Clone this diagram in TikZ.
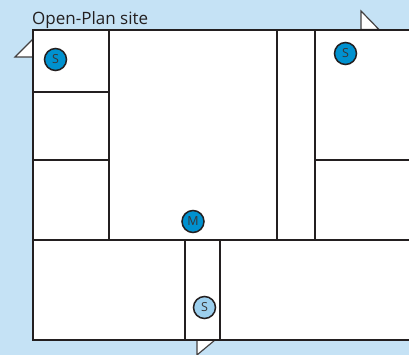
\documentclass[tikz,border=0pt]{standalone}
\usepackage{fontspec}
\setmainfont{Open Sans}
\definecolor{sky}{HTML}{C5E2F5}
\definecolor{wallc}{HTML}{231F20}
\definecolor{deep}{HTML}{0091CF}
\definecolor{pale}{HTML}{9CCFEE}
\tikzset{
  wall/.style={draw=wallc,line width=2pt},
  flag/.style={draw=wallc!85,fill=white,line width=1.2pt,line join=miter},
  sensor/.style={circle,draw=wallc,line width=1.5pt,minimum size=22pt,inner sep=0pt,text=wallc!90,font=\fontsize{12.5}{13}\selectfont},
  master/.style={sensor,fill=deep},
  slave/.style={sensor,fill=deep},
  lightslave/.style={sensor,fill=pale}
}
\begin{document}
\begin{tikzpicture}[x=1pt,y=-1pt]
\useasboundingbox (0,0) rectangle (409,355);
\fill[sky] (0,0) rectangle (409,355);
\fill[white] (33,30) rectangle (409,340);
\filldraw[flag] (33,39) -- (15,57) -- (33,57) -- cycle;
\filldraw[flag] (361,29.5) -- (361,11) -- (379,29.5) -- cycle;
\fill[white] (197,340) -- (197,355) -- (215,340) -- cycle;
\draw[flag] (197,340) -- (197,355) -- (215,340);
\draw[wall] (409,30) -- (33,30) -- (33,340) -- (409,340);
\draw[wall] (109,30) -- (109,240);
\draw[wall] (277,30) -- (277,240);
\draw[wall] (315,30) -- (315,240);
\draw[wall] (33,92) -- (109,92);
\draw[wall] (33,160) -- (109,160);
\draw[wall] (315,160) -- (409,160);
\draw[wall] (33,240) -- (409,240);
\draw[wall] (185,240) -- (185,340);
\draw[wall] (220,240) -- (220,340);
\node[anchor=base west,inner sep=0pt,text=wallc,font=\fontsize{17}{18}\selectfont] (title) at (32,24.5) {Open-Plan site};
\node[slave] (s1) at (55.5,59.5) {S};
\node[slave] (s2) at (345.5,53.5) {S};
\node[master] (m) at (193,221.5) {M};
\node[lightslave] (s3) at (204.5,307.5) {S};
\end{tikzpicture}
\end{document}
